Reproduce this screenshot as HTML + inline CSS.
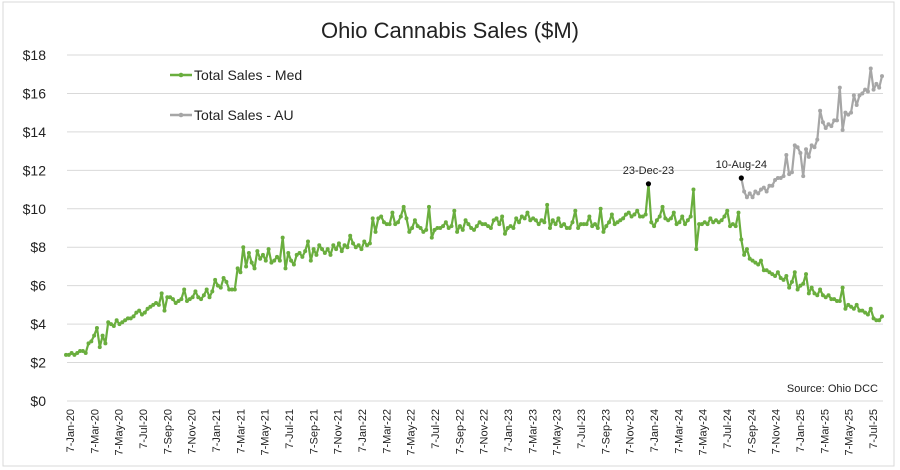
<!DOCTYPE html>
<html><head><meta charset="utf-8"><style>
html,body{margin:0;padding:0;background:#fff;}
svg{display:block;font-family:"Liberation Sans",Arial,sans-serif;}
</style></head><body>
<svg id="chart" width="900" height="470" viewBox="0 0 900 470" xmlns="http://www.w3.org/2000/svg">
<rect x="3" y="2" width="891" height="464" fill="#fff" stroke="#d9d9d9"/>
<text x="450" y="38" text-anchor="middle" font-size="22" fill="#222">Ohio Cannabis Sales ($M)</text>
<g id="grid"></g>
<g id="yaxis"></g>
<g id="xaxis"></g>
<g id="series"></g>
<g>
<g>
<line x1="170" y1="75" x2="192" y2="75" stroke="#6aae3e" stroke-width="2.5"/><circle cx="181" cy="75" r="2.3" fill="#6aae3e"/>
<text x="194" y="80" font-size="14" fill="#222">Total Sales - Med</text></g>
<g>
<line x1="170" y1="115" x2="192" y2="115" stroke="#a6a6a6" stroke-width="2.5"/><circle cx="181" cy="115" r="2.3" fill="#a6a6a6"/>
<text x="194" y="120" font-size="14" fill="#222">Total Sales - AU</text></g>
</g>
<text x="878" y="392" text-anchor="end" font-size="11" fill="#222">Source: Ohio DCC</text>
</svg>
<script>
const xTickLabels = ["7-Jan-20","7-Mar-20","7-May-20","7-Jul-20","7-Sep-20","7-Nov-20","7-Jan-21","7-Mar-21","7-May-21","7-Jul-21","7-Sep-21","7-Nov-21","7-Jan-22","7-Mar-22","7-May-22","7-Jul-22","7-Sep-22","7-Nov-22","7-Jan-23","7-Mar-23","7-May-23","7-Jul-23","7-Sep-23","7-Nov-23","7-Jan-24","7-Mar-24","7-May-24","7-Jul-24","7-Sep-24","7-Nov-24","7-Jan-25","7-Mar-25","7-May-25","7-Jul-25"];
const yTicks = [0,2,4,6,8,10,12,14,16,18];
const medValues = [
2.4,2.4,2.5,2.4,2.5,2.6,2.6,2.5,3.0,3.1,
3.4,3.8,2.8,3.4,3.0,4.1,4.0,3.9,4.2,4.0,
4.1,4.2,4.3,4.3,4.4,4.6,4.7,4.5,4.6,4.8,
4.9,5.0,5.1,5.0,5.6,4.7,5.4,5.4,5.3,5.1,
5.2,5.3,5.8,5.2,5.3,5.4,5.7,5.4,5.3,5.5,
5.8,5.4,5.7,6.3,6.0,5.9,6.4,6.2,5.8,5.8,
5.8,6.9,6.7,8.0,7.0,7.7,7.2,6.9,7.8,7.4,
7.6,7.3,7.9,7.2,7.3,7.5,7.3,8.5,6.9,7.7,
7.3,7.1,7.6,7.7,7.5,7.8,8.3,7.3,7.9,7.6,
8.1,7.9,7.7,7.9,7.6,8.1,7.9,8.2,7.8,8.1,
8.0,8.6,8.2,8.0,8.1,7.9,8.3,8.1,8.2,9.5,
8.8,9.5,9.6,9.3,9.2,9.2,9.8,9.2,9.3,9.6,
10.1,9.5,8.8,9.0,9.4,9.1,9.0,8.8,8.9,10.1,
8.5,8.9,9.0,9.0,9.1,9.3,9.0,9.1,9.9,8.8,
9.1,8.9,9.4,9.2,9.0,8.9,9.1,9.3,9.2,9.2,
9.1,9.0,9.4,9.5,9.2,9.6,8.7,9.0,9.1,9.0,
9.5,9.3,9.6,9.5,9.8,9.4,9.5,9.4,9.2,9.4,
9.3,10.2,9.0,9.4,9.2,9.5,9.1,9.2,9.0,9.0,
9.3,9.9,9.0,9.2,9.2,9.2,9.6,9.1,9.2,9.0,
10.0,8.8,9.1,9.3,9.7,9.2,9.3,9.4,9.5,9.7,
9.8,9.6,9.7,9.9,9.6,9.6,9.7,11.3,9.3,9.1,
9.4,9.6,10.1,9.5,9.4,9.5,9.8,9.2,9.3,9.6,
9.2,9.4,9.6,11.0,7.9,9.2,9.2,9.3,9.2,9.5,
9.3,9.4,9.3,9.4,9.6,9.9,9.1,9.2,9.1,9.8,
8.4,7.6,7.9,7.4,7.3,7.2,7.1,7.3,6.8,6.8,
6.7,6.6,6.5,6.7,6.4,6.3,6.5,5.9,6.2,6.7,
5.8,6.0,6.1,6.6,5.6,5.9,5.6,5.5,5.8,5.5,
5.4,5.5,5.3,5.3,5.2,5.2,5.9,4.8,5.0,4.9,
4.8,5.0,4.7,4.7,4.6,4.5,4.8,4.3,4.2,4.2,4.4];
const auStartIndex = 240;
const auValues = [
11.6,10.9,10.6,10.8,10.6,10.9,10.8,11.0,11.1,10.9,
11.2,11.2,11.5,11.6,11.6,11.7,12.8,11.8,11.9,13.3,
13.2,12.9,11.7,13.1,12.7,13.3,13.2,13.6,15.1,14.5,
14.2,14.4,14.3,14.6,14.6,16.3,14.1,15.0,14.9,15.0,
15.9,15.4,15.9,16.0,16.2,16.1,17.3,16.2,16.5,16.3,16.9];
const annotations = [{series:"med", index:207, label:"23-Dec-23"},{series:"au", index:240, label:"10-Aug-24"}];

const NS="http://www.w3.org/2000/svg";
const X0=66, X1=882, Y0=401, Y18=55, GL=67, GR=883;
const nPts = medValues.length;
const x = i => X0 + i*(X1-X0)/(nPts-1);
const y = v => Y0 - v*(Y0-Y18)/18;
function mk(tag, attrs, parent){const e=document.createElementNS(NS,tag);for(const k in attrs)e.setAttribute(k,attrs[k]);parent.appendChild(e);return e;}

const grid=document.getElementById('grid'), yax=document.getElementById('yaxis'), xax=document.getElementById('xaxis'), ser=document.getElementById('series');
yTicks.forEach(t=>{
  const l=mk('line',{x1:GL,x2:GR,y1:y(t),y2:y(t),stroke:'#d9d9d9','stroke-width':1},grid);
  
  
  const tx=mk('text',{x:46,y:y(t)+5,'text-anchor':'end','font-size':14,fill:'#222'},yax);
  tx.textContent='$'+t;
  
  
});
xTickLabels.forEach((lab,k)=>{
  const cx=70+k*(873-70)/(xTickLabels.length-1);
  const tx=mk('text',{x:0,y:0,transform:`translate(${cx+4},409) rotate(-90)`,'text-anchor':'end','font-size':11,fill:'#222'},xax);
  tx.textContent=lab;
  
  
});
function drawSeries(vals, start, color, name){
  const pts=vals.map((v,j)=>x(start+j).toFixed(1)+','+y(v).toFixed(1)).join(' ');
  const pl=mk('polyline',{points:pts,fill:'none',stroke:color,'stroke-width':2.2,'stroke-linejoin':'round'},ser);
  
  
  vals.forEach((v,j)=>{
    const c=mk('circle',{cx:x(start+j),cy:y(v),r:2,fill:color},ser);
    
    
  });
}
drawSeries(medValues,0,'#6aae3e','med-sales');
drawSeries(auValues,auStartIndex,'#a6a6a6','au-sales');
annotations.forEach(a=>{
  const v = a.series==="med" ? medValues[a.index] : auValues[a.index-auStartIndex];
  const c=mk('circle',{cx:x(a.index),cy:y(v),r:2.6,fill:'#000'},ser);
  
  
  const t=mk('text',{x:x(a.index),y:y(v)-10,'text-anchor':'middle','font-size':11,fill:'#222'},ser);
  t.textContent=a.label;
  
  
});
</script>
</body></html>
